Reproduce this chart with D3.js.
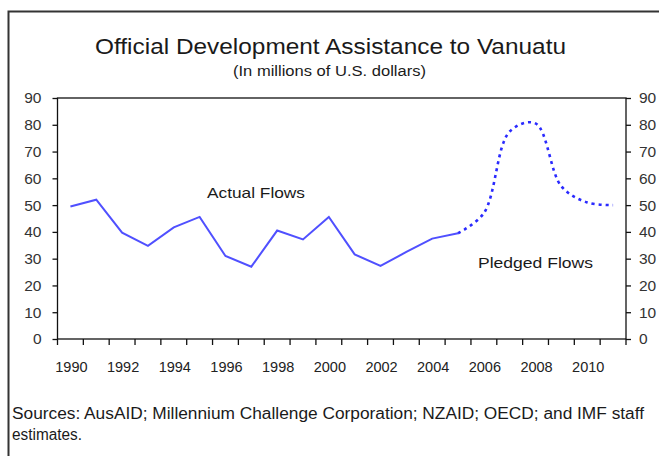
<!DOCTYPE html>
<html>
<head>
<meta charset="utf-8">
<script src="https://cdn.jsdelivr.net/npm/d3@7"></script>
<style>
  body { margin: 0; background: #fff; }
  text { font-family: "Liberation Sans", Arial, sans-serif; }
</style>
</head>
<body>
<svg id="chart" width="659" height="456"></svg>
<script>
// years 1990..2011
const years = d3.range(1990, 2012);
// actual flows 1990-2005
const actual = [49.5, 52, 39.7, 34.8, 41.7, 45.6, 31, 27, 40.5, 37.2, 45.6, 31.6, 27.3, 32.5, 37.5, 39.5];
// pledged flows 2005-2011
const pledgedYears = [2005, 2006, 2007, 2008, 2009, 2010, 2011];
const pledged = [39.5, 47, 77.5, 80.5, 57, 51, 50];
const yTicks = [0, 10, 20, 30, 40, 50, 60, 70, 80, 90];
const yearLabels = [1990, 1992, 1994, 1996, 1998, 2000, 2002, 2004, 2006, 2008, 2010];

const svg = d3.select("#chart");
const plot = { left: 57.5, right: 626, top: 98, bottom: 339 };

// outer frame (runs off the right and bottom)
svg.append("path")
    .attr("d", "M8.5,470 L8.5,11.5 L670,11.5")
    .attr("fill", "none")
    .attr("stroke", "#333")
    .attr("stroke-width", 2);

function label(txt, xPos, yPos, size, len, anchor) {
    return svg.append("text")
        .attr("x", xPos).attr("y", yPos)
        .attr("text-anchor", anchor || "start")
        .attr("textLength", len)
        .attr("lengthAdjust", "spacingAndGlyphs")
        .style("font-size", size + "px")
        .attr("fill", "#1a1a1a")
        .text(txt);
}

label("Official Development Assistance to Vanuatu", 330.5, 54, 22.5, 471, "middle");
label("(In millions of U.S. dollars)", 329.5, 76, 14, 193, "middle");

const x = d3.scaleBand()
    .domain(years)
    .range([plot.left, plot.right]);

const y = d3.scaleLinear()
    .domain([0, 90])
    .range([plot.bottom, plot.top]);

const cx = yr => x(yr) + x.bandwidth() / 2;

// plot box
svg.append("rect")
    .attr("x", plot.left).attr("y", plot.top)
    .attr("width", plot.right - plot.left)
    .attr("height", plot.bottom - plot.top)
    .attr("fill", "none")
    .attr("stroke", "#111")
    .attr("stroke-width", 1.3);

// left axis
let yAxisL = d3.axisLeft(y).tickValues(yTicks).tickSize(5).tickPadding(11);
svg.append("g")
    .attr("class", "y-axis-left")
    .attr("transform", `translate(${plot.left}, 0)`)
    .call(yAxisL);

// right axis
let yAxisR = d3.axisRight(y).tickValues(yTicks).tickSize(5).tickPadding(8);
svg.append("g")
    .attr("class", "y-axis-right")
    .attr("transform", `translate(${plot.right}, 0)`)
    .call(yAxisR);

// x axis: ticks at band boundaries, labels every 2 years
const xTickPos = years.map(yr => x(yr)).concat([plot.right]);
const xg = svg.append("g").attr("class", "x-axis");
xg.selectAll("line")
    .data(xTickPos)
    .enter()
    .append("line")
    .attr("x1", d => d).attr("x2", d => d)
    .attr("y1", plot.bottom).attr("y2", plot.bottom + 6)
    .attr("stroke", "#111")
    .attr("stroke-width", 1.3);
xg.selectAll("text")
    .data(yearLabels)
    .enter()
    .append("text")
    .attr("x", d => cx(d) + 1)
    .attr("y", 372)
    .attr("text-anchor", "middle")
    .style("font-size", "14.5px")
    .attr("fill", "#222")
    .text(d => d);

svg.selectAll(".y-axis-left, .y-axis-right").each(function () {
    let g = d3.select(this);
    g.select(".domain").remove();
    g.selectAll("line").attr("stroke", "#111").attr("stroke-width", 1.3);
    g.selectAll("text")
        .style("font-size", "15.5px")
        .style("font-family", "Liberation Sans, Arial, sans-serif")
        .attr("fill", "#333");
});

// actual flows
let line = d3.line()
    .x((d, i) => cx(years[i]))
    .y(d => y(d));
svg.append("path")
    .datum(actual)
    .attr("d", line)
    .attr("fill", "none")
    .attr("stroke", "#5050ff")
    .attr("stroke-width", 2);

// pledged flows (dotted, smoothed)
let pline = d3.line()
    .x((d, i) => cx(pledgedYears[i]))
    .y(d => y(d))
    .curve(d3.curveCatmullRom.alpha(0.5));
svg.append("path")
    .datum(pledged)
    .attr("d", pline)
    .attr("fill", "none")
    .attr("stroke", "#2a2aff")
    .attr("stroke-width", 2.6)
    .attr("stroke-dasharray", "3,4");

label("Actual Flows", 207, 198, 15, 98);
label("Pledged Flows", 478, 268, 15, 115);

label("Sources: AusAID; Millennium Challenge Corporation; NZAID; OECD; and IMF staff", 12, 419, 16, 632);
label("estimates.", 12, 440, 16, 70);
</script>
</body>
</html>
